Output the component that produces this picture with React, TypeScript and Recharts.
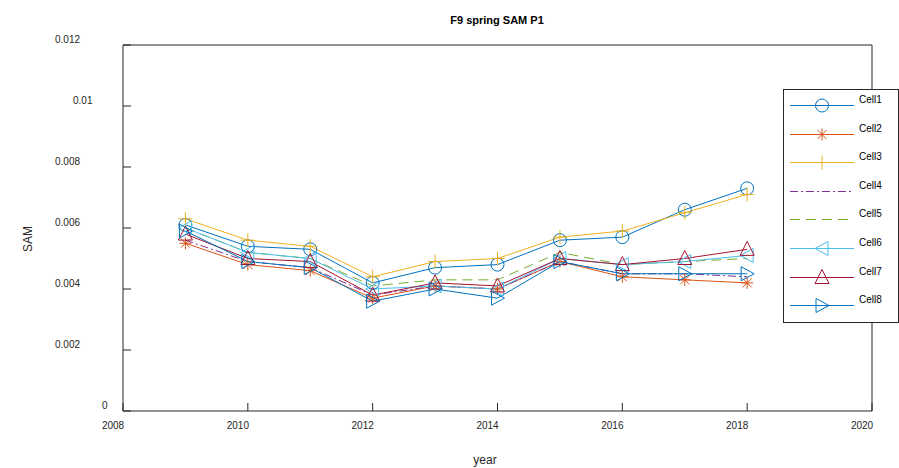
import React from "react";
import {
  Customized,
  Legend,
  Line,
  LineChart,
  ReferenceLine,
  XAxis,
  YAxis,
} from "recharts";

const YEARS = [2009, 2010, 2011, 2012, 2013, 2014, 2015, 2016, 2017, 2018];

const CELL1 = [0.0061, 0.0054, 0.0053, 0.0042, 0.0047, 0.0048, 0.0056, 0.0057, 0.0066, 0.0073];
const CELL2 = [0.0055, 0.0048, 0.0046, 0.0037, 0.0041, 0.004, 0.0049, 0.0044, 0.0043, 0.0042];
const CELL3 = [0.0063, 0.0056, 0.0054, 0.0044, 0.0049, 0.005, 0.0057, 0.0059, 0.0065, 0.0071];
const CELL4 = [0.0056, 0.0049, 0.0047, 0.0038, 0.0041, 0.004, 0.0049, 0.0045, 0.0045, 0.0044];
const CELL5 = [0.006, 0.0052, 0.005, 0.0041, 0.0043, 0.0043, 0.0052, 0.0048, 0.0049, 0.005];
const CELL6 = [0.006, 0.0052, 0.005, 0.004, 0.0041, 0.004, 0.005, 0.0048, 0.0049, 0.0051];
const CELL7 = [0.0058, 0.005, 0.0049, 0.0038, 0.0042, 0.0041, 0.005, 0.0048, 0.005, 0.0053];
const CELL8 = [0.0059, 0.0049, 0.0047, 0.0036, 0.004, 0.0037, 0.0049, 0.0045, 0.0045, 0.0045];

const X_TICKS = [2008, 2010, 2012, 2014, 2016, 2018, 2020];
const Y_TICKS = [0, 0.002, 0.004, 0.006, 0.008, 0.01, 0.012];
const Y_TICK_LABELS = ["0", "0.002", "0.004", "0.006", "0.008", "0.01", "0.012"];

type Marker = "circle" | "star" | "plus" | "none" | "left" | "up" | "right";

const SERIES: { key: string; values: number[]; color: string; marker: Marker; dash?: string }[] = [
  { key: "Cell1", values: CELL1, color: "#0072BD", marker: "circle" },
  { key: "Cell2", values: CELL2, color: "#D95319", marker: "star" },
  { key: "Cell3", values: CELL3, color: "#EDB120", marker: "plus" },
  { key: "Cell4", values: CELL4, color: "#7E2F8E", marker: "none", dash: "8 3 2 3" },
  { key: "Cell5", values: CELL5, color: "#77AC30", marker: "none", dash: "10 6" },
  { key: "Cell6", values: CELL6, color: "#4DBEEE", marker: "left" },
  { key: "Cell7", values: CELL7, color: "#A2142F", marker: "up" },
  { key: "Cell8", values: CELL8, color: "#0072BD", marker: "right" },
];

const data = YEARS.map((year, i) => {
  const row: Record<string, number> = { year };
  SERIES.forEach((s) => (row[s.key] = s.values[i]));
  return row;
});

const AXIS = "#262626";
const FONT = "'Liberation Sans', Arial, Helvetica, sans-serif";

function drawMarker(kind: Marker, cx: number, cy: number, color: string, key?: string) {
  const r = 6.5;
  switch (kind) {
    case "circle":
      return <circle key={key} cx={cx} cy={cy} r={r} fill="none" stroke={color} strokeWidth={1} />;
    case "plus":
      return (
        <path key={key} d={`M${cx - 7},${cy}H${cx + 7}M${cx},${cy - 7}V${cy + 7}`} stroke={color} strokeWidth={1} fill="none" />
      );
    case "star": {
      const d = 6;
      const e = 4.5;
      return (
        <path
          key={key}
          d={`M${cx - d},${cy}H${cx + d}M${cx},${cy - d}V${cy + d}M${cx - e},${cy - e}L${cx + e},${cy + e}M${cx - e},${cy + e}L${cx + e},${cy - e}`}
          stroke={color}
          strokeWidth={1}
          fill="none"
        />
      );
    }
    case "left":
      return <path key={key} d={`M${cx - 7},${cy}L${cx + 6},${cy - 7}L${cx + 6},${cy + 7}Z`} stroke={color} fill="none" />;
    case "right":
      return <path key={key} d={`M${cx + 7},${cy}L${cx - 6},${cy - 7}L${cx - 6},${cy + 7}Z`} stroke={color} fill="none" />;
    case "up":
      return <path key={key} d={`M${cx},${cy - 8}L${cx + 7},${cy + 6}L${cx - 7},${cy + 6}Z`} stroke={color} fill="none" />;
    default:
      return <g key={key} />;
  }
}

function XTick({ x, y, payload }: any) {
  return (
    <g>
      <line x1={x} y1={y} x2={x} y2={y - 8} stroke={AXIS} />
      <text x={x - 10} y={y + 18} textAnchor="middle" fontSize={10} fill={AXIS} fontFamily={FONT}>
        {payload.value}
      </text>
    </g>
  );
}

function YTick({ x, y, payload, index }: any) {
  const label = Y_TICK_LABELS[index] ?? String(payload.value);
  const shift = label.length >= 5 ? 68 : label.length === 4 ? 50 : 21;
  return (
    <g>
      <line x1={x} y1={y} x2={x + 8} y2={y} stroke={AXIS} />
      <text x={x - shift} y={y - 2.5} textAnchor="start" fontSize={10} fill={AXIS} fontFamily={FONT}>
        {label}
      </text>
    </g>
  );
}

function Titles() {
  return (
    <g fontFamily={FONT}>
      <text x={497} y={24} textAnchor="middle" fontSize={11} fontWeight="bold" fill="#000">
        F9 spring SAM P1
      </text>
      <text x={32} y={239} textAnchor="middle" fontSize={12} fill={AXIS} transform="rotate(-90 32 239)">
        SAM
      </text>
      <text x={485} y={464} textAnchor="middle" fontSize={12} fill={AXIS}>
        year
      </text>
    </g>
  );
}

function LegendBox() {
  return (
    <svg width={116} height={234} style={{ display: "block" }}>
      <rect x={0.5} y={0.5} width={115} height={233} fill="#fff" stroke={AXIS} />
      {SERIES.map((s, i) => {
        const cy = Math.round(16 + i * 28.6) + 0.5;
        return (
          <g key={s.key}>
            <line x1={7} y1={cy} x2={71} y2={cy} stroke={s.color} strokeDasharray={s.dash} />
            {drawMarker(s.marker, 39, cy, s.color)}
            <text x={76} y={cy - 3} fontSize={10} fill="#000" fontFamily={FONT}>
              {s.key}
            </text>
          </g>
        );
      })}
    </svg>
  );
}

export default function App() {
  return (
    <div style={{ position: "absolute", left: 0, top: 0, width: 899, height: 468, background: "#fff" }}>
      <LineChart width={899} height={468} data={data} margin={{ top: 45, right: 27, bottom: 0, left: 0 }}>
        <XAxis
          dataKey="year"
          type="number"
          domain={[2008, 2020]}
          ticks={X_TICKS}
          height={57}
          stroke={AXIS}
          tickLine={false}
          tickSize={0}
          tickMargin={0}
          tick={<XTick />}
          interval={0}
        />
        <YAxis
          type="number"
          domain={[0, 0.012]}
          ticks={Y_TICKS}
          width={123}
          stroke={AXIS}
          tickLine={false}
          tickSize={0}
          tickMargin={0}
          tick={<YTick />}
          interval={0}
        />
        <ReferenceLine x={2020} stroke={AXIS} />
        <ReferenceLine y={0.012} stroke={AXIS} />
        {SERIES.map((s) => (
          <Line
            key={s.key}
            type="linear"
            dataKey={s.key}
            stroke={s.color}
            strokeWidth={1}
            strokeDasharray={s.dash}
            isAnimationActive={false}
            activeDot={false}
            dot={(p: any) => drawMarker(s.marker, p.cx, p.cy, s.color, `${s.key}-${p.index}`)}
          />
        ))}
        <Customized component={<Titles />} />
        <Legend
          layout="vertical"
          align="center"
          verticalAlign="middle"
          content={() => <LegendBox />}
          wrapperStyle={{ position: "absolute", left: 783, top: 89, width: 116, height: 234 }}
        />
      </LineChart>
    </div>
  );
}
